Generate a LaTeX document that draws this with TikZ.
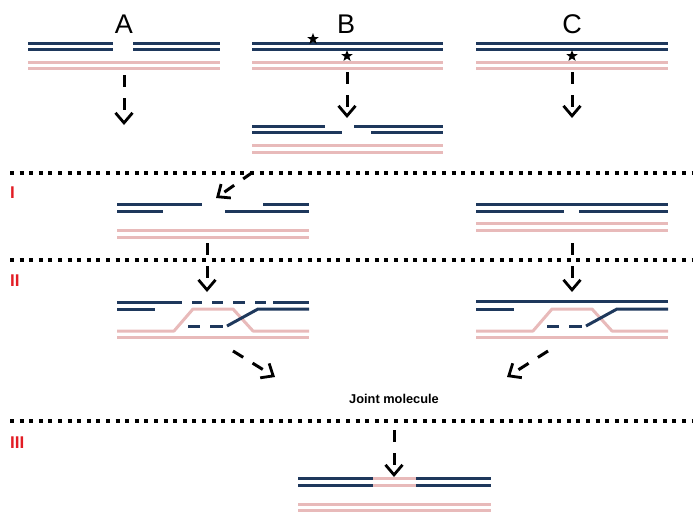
\documentclass[tikz,border=0pt]{standalone}
\usepackage{fontspec}
\setmainfont{Liberation Sans}
\usetikzlibrary{arrows.meta,shapes.geometric}
\definecolor{navy}{RGB}{30,56,92}
\definecolor{pinkish}{RGB}{232,186,186}
\definecolor{labred}{RGB}{226,28,36}
\tikzset{
  dk/.style={draw=navy,line width=3pt},
  pk/.style={draw=pinkish,line width=3pt},
  sep/.style={line width=4pt,dash pattern=on 4pt off 5.6pt},
  flow/.style={line width=3pt,dash pattern=on 12pt off 11pt,
    -{Straight Barb[length=10pt,width=17pt,line width=2.8pt]}},
  staricon/.style={star,star points=5,star point ratio=2.4,fill=black,inner sep=0pt,minimum size=12pt},
  big/.style={font=\fontsize{27}{30}\selectfont},
  rowlab/.style={anchor=west,text=labred,font=\fontsize{17}{19}\selectfont\bfseries,inner sep=0pt}
}
\begin{document}
\begin{tikzpicture}[x=1pt,y=-1pt]
\useasboundingbox (0,0) rectangle (700,525);
% titles
\node[big] (tA) at (124,24) {A};
\node[big] (tB) at (346,24) {B};
\node[big] (tC) at (572,24) {C};
% panel A
\draw[pk] (28,62)--(220,62); \draw[pk] (28,68)--(220,68);
\draw[dk] (28,43)--(113,43); \draw[dk] (133,43)--(220,43);
\draw[dk] (28,49)--(113,49); \draw[dk] (133,49)--(220,49);
% panel B
\draw[pk] (252,62)--(443,62); \draw[pk] (252,68)--(443,68);
\draw[dk] (252,43)--(443,43); \draw[dk] (252,49)--(443,49);
\node[staricon] (s1) at (313,39) {};
\node[staricon] (s2) at (347,56) {};
% panel C
\draw[pk] (476,62)--(668,62); \draw[pk] (476,68)--(668,68);
\draw[dk] (476,43)--(668,43); \draw[dk] (476,49)--(668,49);
\node[staricon] (s3) at (572,56) {};
% B lower
\draw[pk] (252,145)--(443,145); \draw[pk] (252,152)--(443,152);
\draw[dk] (252,126)--(325,126); \draw[dk] (354,126)--(443,126);
\draw[dk] (252,132)--(342,132); \draw[dk] (371,132)--(443,132);
% separators
\draw[sep] (10,173)--(692,173);
\draw[sep] (10,260)--(692,260);
\draw[sep] (10,421)--(692,421);
\node[rowlab] (r1) at (10,193) {I};
\node[rowlab] (r2) at (10,281) {II};
\node[rowlab] (r3) at (10,443) {III};
% row I left
\draw[pk] (117,230)--(309,230); \draw[pk] (117,237)--(309,237);
\draw[dk] (117,204)--(202,204); \draw[dk] (263,204)--(309,204);
\draw[dk] (117,211)--(163,211); \draw[dk] (225,211)--(309,211);
% row I right
\draw[pk] (476,223)--(668,223); \draw[pk] (476,230)--(668,230);
\draw[dk] (476,204)--(668,204);
\draw[dk] (476,211)--(564,211); \draw[dk] (579,211)--(668,211);
% row II left
\begin{scope}[line join=round]
\draw[pk] (117,331)--(174,331)--(193,309)--(233,309)--(253,331)--(309,331);
\draw[pk] (117,337)--(309,337);
\draw[dk] (117,302)--(182,302);
\foreach \a/\b in {192/202,212/223,233/245,255/266}{\draw[dk] (\a,302)--(\b,302);}
\draw[dk] (273,302)--(309,302);
\draw[dk] (117,309)--(155,309);
\draw[dk] (227,326)--(258,309)--(309,309);
\draw[dk] (188,326)--(200,326); \draw[dk] (210,326)--(223,326);
% row II right
\draw[pk] (476,331)--(533,331)--(552,309)--(592,309)--(612,331)--(668,331);
\draw[pk] (476,337)--(668,337);
\draw[dk] (476,301)--(668,301);
\draw[dk] (476,309)--(514,309);
\draw[dk] (586,326)--(617,309)--(668,309);
\draw[dk] (547,326)--(559,326); \draw[dk] (569,326)--(582,326);
\end{scope}
% joint molecule
\node[font=\fontsize{12.8}{14}\selectfont\bfseries] (jm) at (394,399) {Joint molecule};
% final
\draw[pk] (298,504)--(491,504); \draw[pk] (298,510)--(491,510);
\draw[dk] (298,478)--(373,478); \draw[pk] (373,478)--(416,478); \draw[dk] (416,478)--(491,478);
\draw[dk] (298,485)--(373,485); \draw[pk] (373,485)--(416,485); \draw[dk] (416,485)--(491,485);
% arrow end points
\coordinate (a1) at (124,75);  \coordinate (a2) at (124,125);
\coordinate (b1) at (347,72);  \coordinate (b2) at (347,118);
\coordinate (c1) at (572,72);  \coordinate (c2) at (572,118);
\coordinate (d1) at (253,172); \coordinate (d2) at (216,198);
\coordinate (e1) at (207,243); \coordinate (e2) at (207,292);
\coordinate (f1) at (572,243); \coordinate (f2) at (572,292);
\coordinate (g1) at (233,351); \coordinate (g2) at (275,377);
\coordinate (h1) at (548,351); \coordinate (h2) at (507,377);
\coordinate (k1) at (394,430); \coordinate (k2) at (394,477);
\foreach \p in {a,b,c,d,e,f,g,h,k}{\draw[flow] (\p1)--(\p2);}
\end{tikzpicture}
\end{document}
